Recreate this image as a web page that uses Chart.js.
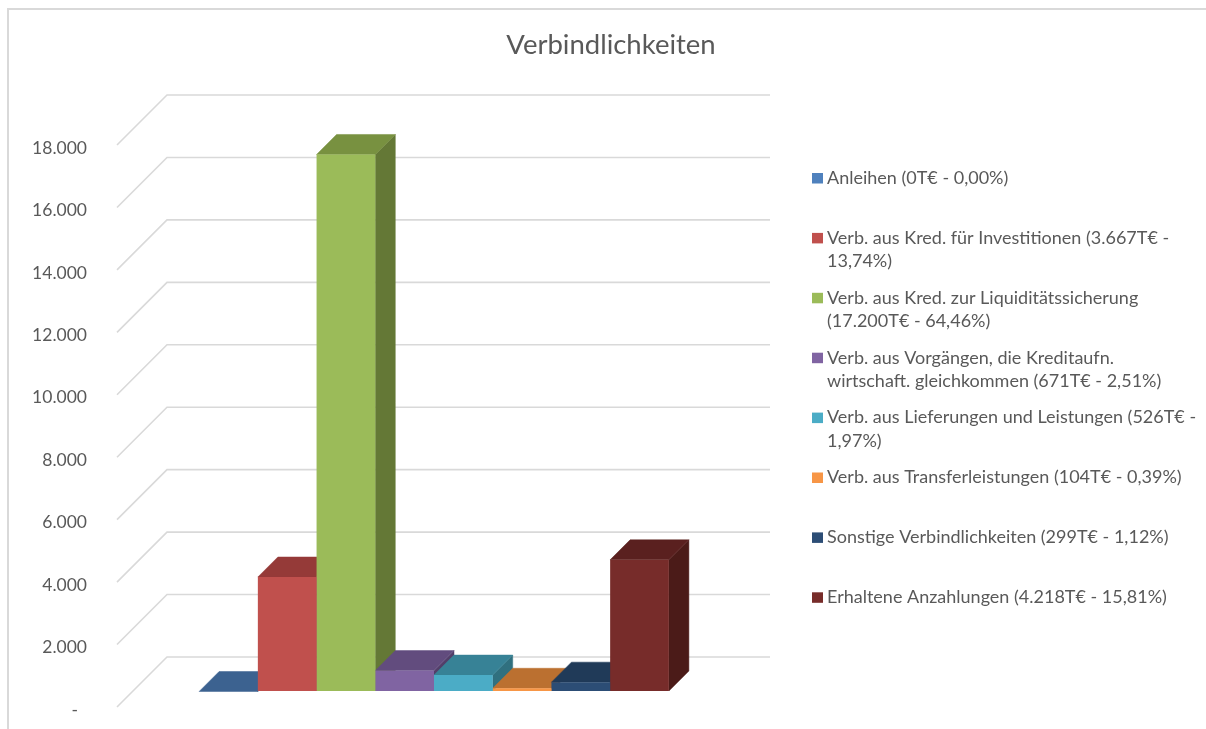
<!DOCTYPE html>
<html>
<head>
<meta charset="utf-8">
<script src="https://cdn.jsdelivr.net/npm/chart.js"></script>
<style>
    html, body { margin: 0; padding: 0; background: #fff; }
    #wrap { position: relative; width: 1206px; height: 729px; overflow: hidden; }
    #frame { position: absolute; left: 7px; top: 8px; width: 1300px; height: 800px; border: 2px solid #d9d9d9; box-sizing: border-box; }
    canvas { position: absolute; left: 0; top: 0; }
</style>
</head>
<body>
<div id="wrap">
    <div id="frame"></div>
    <canvas id="chart" width="1206" height="729"></canvas>
</div>
<script>
const chartTitle = 'Verbindlichkeiten';
const categories = ['Verbindlichkeiten'];
const seriesLabels = [
    ['Anleihen (0T€ - 0,00%)'],
    ['Verb. aus Kred. für Investitionen (3.667T€ -', '13,74%)'],
    ['Verb. aus Kred. zur Liquiditätssicherung', '(17.200T€ - 64,46%)'],
    ['Verb. aus Vorgängen, die Kreditaufn.', 'wirtschaft. gleichkommen (671T€ - 2,51%)'],
    ['Verb. aus Lieferungen und Leistungen (526T€ -', '1,97%)'],
    ['Verb. aus Transferleistungen (104T€ - 0,39%)'],
    ['Sonstige Verbindlichkeiten (299T€ - 1,12%)'],
    ['Erhaltene Anzahlungen (4.218T€ - 15,81%)']
];
const seriesValues = [0, 3667, 17200, 671, 526, 104, 299, 4218];
const seriesColors = ['#4f81bd', '#c0504d', '#9bbb59', '#8064a2', '#4bacc6', '#f79646', '#2c4d75', '#772c2a'];
const topColors = ['#3c6290', '#953a38', '#789140', '#624c7e', '#378296', '#bb7030', '#203a58', '#5a201f'];
const sideColors = ['#325274', '#7b302e', '#647836', '#523f69', '#30707f', '#9c5d28', '#1a3049', '#4b1b18'];

const FONT = 'Lato, "Open Sans", sans-serif';
const TEXT_COLOR = '#595959';
const GRID_COLOR = '#d9d9d9';

// depth of the back wall and of the bars, in px
const WALL_DEPTH = 50;
const BAR_DEPTH = 20;
const BAR_INSET = 15.5;
const LABEL_SHIFT = 3;

const wallPlugin = {
    id: 'wall',
    beforeDraw(chart) {
        // tick labels sit a little below the end of their grid line
        const scale = chart.scales.y;
        const drawLabels = scale.drawLabels;
        scale.drawLabels = function (area) {
            chart.ctx.save();
            chart.ctx.translate(0, LABEL_SHIFT);
            drawLabels.call(scale, area);
            chart.ctx.restore();
        };
    },
    beforeDatasetsDraw(chart) {
        const { ctx, chartArea, scales } = chart;
        ctx.save();
        ctx.strokeStyle = GRID_COLOR;
        ctx.lineWidth = 1.6;
        scales.y.ticks.forEach(t => {
            const y = scales.y.getPixelForValue(t.value);
            ctx.beginPath();
            ctx.moveTo(chartArea.left, y);
            ctx.lineTo(chartArea.left + WALL_DEPTH, y - WALL_DEPTH);
            ctx.lineTo(chartArea.right + WALL_DEPTH, y - WALL_DEPTH);
            ctx.stroke();
        });
        ctx.restore();
    }
};

const fill = (ctx, color, pts) => {
    ctx.fillStyle = color;
    ctx.strokeStyle = color;
    ctx.lineWidth = 0.5;
    ctx.beginPath();
    pts.forEach((p, i) => i ? ctx.lineTo(p[0], p[1]) : ctx.moveTo(p[0], p[1]));
    ctx.closePath();
    ctx.fill();
    ctx.stroke();
};

// Top and side faces go first, left to right. The fronts never overlap each other,
// so chart.js can paint them afterwards, moved into the middle of the floor.
const bar3dPlugin = {
    id: 'bar3d',
    beforeDatasetsDraw(chart) {
        const { ctx } = chart;
        const d = BAR_DEPTH;
        seriesValues.forEach((v, i) => {
            const bar = chart.getDatasetMeta(i).data[0];
            const l = bar.x - bar.width / 2 + BAR_INSET;
            const r = bar.x + bar.width / 2 + BAR_INSET;
            const top = bar.y - BAR_INSET;
            const bottom = bar.base - BAR_INSET;
            fill(ctx, sideColors[i], [[r, top], [r + d, top - d], [r + d, bottom - d], [r, bottom]]);
            fill(ctx, topColors[i], [[l, top], [l + d, top - d], [r + d, top - d], [r, top]]);
        });
    },
    beforeDatasetDraw(chart) {
        chart.ctx.save();
        chart.ctx.translate(BAR_INSET, -BAR_INSET);
    },
    afterDatasetDraw(chart) {
        chart.ctx.restore();
    }
};

const textPlugin = {
    id: 'texts',
    afterDraw(chart) {
        const { ctx } = chart;
        ctx.save();
        ctx.textBaseline = 'middle';
        ctx.textAlign = 'center';
        ctx.fillStyle = TEXT_COLOR;
        ctx.font = '27.5px ' + FONT;
        ctx.fillText(chartTitle, 611, 45);

        ctx.textAlign = 'left';
        ctx.font = '18px ' + FONT;
        seriesLabels.forEach((lines, i) => {
            const y = 178 + i * 59.9;
            ctx.fillStyle = seriesColors[i];
            ctx.fillRect(812, y - 5, 11, 10.5);
            ctx.fillStyle = TEXT_COLOR;
            lines.forEach((line, n) => ctx.fillText(line, 827, y + n * 23.5));
        });
        ctx.restore();
    }
};

new Chart(document.getElementById('chart'), {
    type: 'bar',
    data: {
        labels: categories,
        datasets: seriesLabels.map((lines, i) => ({
            label: lines.join(' '),
            data: [seriesValues[i]],
            backgroundColor: seriesColors[i],
            borderWidth: 0,
            clip: false
        }))
    },
    options: {
        responsive: false,
        animation: false,
        layout: { padding: { left: 0, right: 486, top: 145, bottom: 22 } },
        plugins: { legend: { display: false }, title: { display: false }, tooltip: { enabled: false } },
        scales: {
            x: {
                display: false,
                offset: true
            },
            y: {
                min: 0,
                max: 18000,
                afterFit: s => { s.width = 117; },
                border: { display: false },
                // invisible tick marks keep the labels away from the axis; ticks.padding would shrink the plot
                grid: { drawOnChartArea: false, drawTicks: true, tickLength: 30, tickColor: 'transparent', color: 'transparent' },
                ticks: {
                    stepSize: 2000,
                    padding: 0,
                    color: TEXT_COLOR,
                    font: { family: FONT, size: 17.5 },
                    callback: v => v === 0 ? '-  ' : v.toLocaleString('de-DE')
                }
            }
        },
        datasets: { bar: { categoryPercentage: 0.779, barPercentage: 1 } }
    },
    plugins: [wallPlugin, bar3dPlugin, textPlugin]
});
</script>
</body>
</html>
